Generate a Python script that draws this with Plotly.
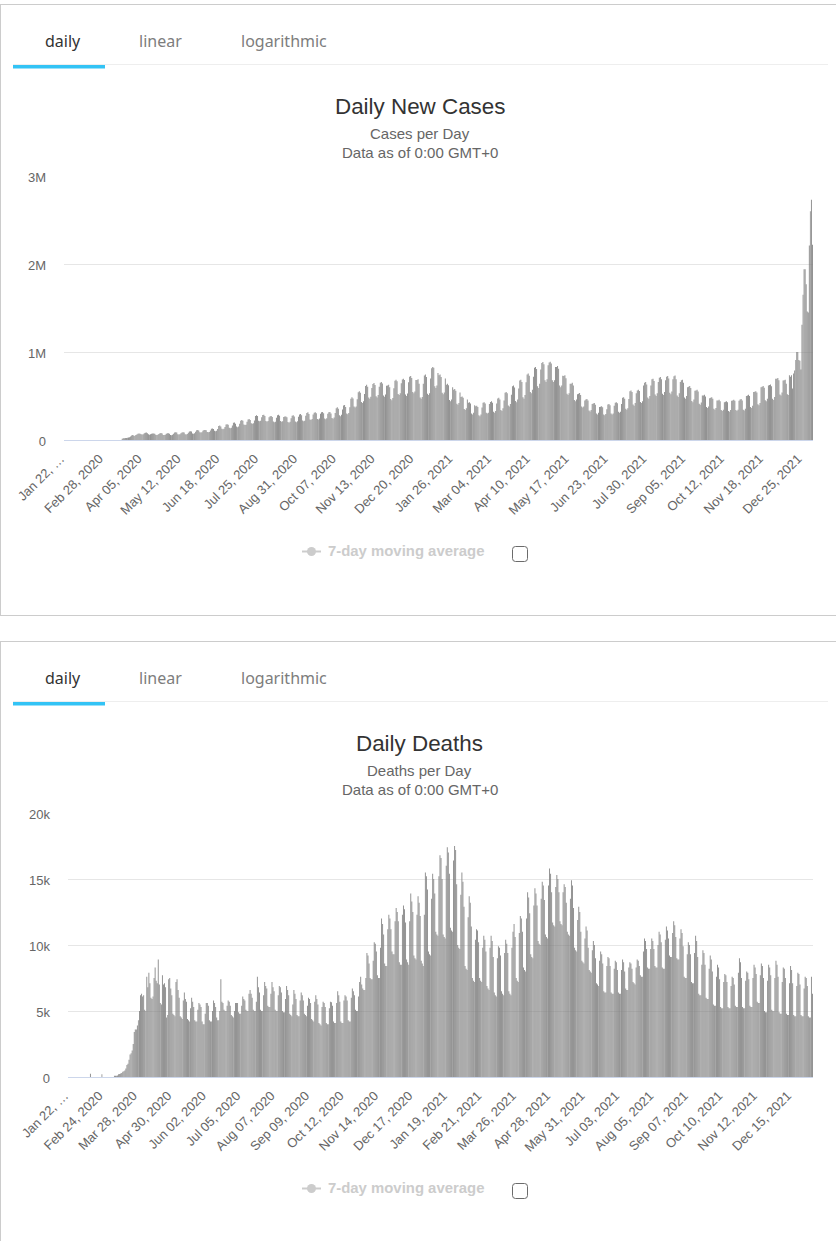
"""Daily new cases and daily deaths, two stacked column charts with tab headers."""
import pandas as pd
import plotly.graph_objects as go

WIDTH = 836
HEIGHT = 1241
START_DATE = "2020-01-22"

# one row per week, thousands of cases per day
CASES_K = [
    0, 0, 0, 0, 0, 0, 0,
    0, 0, 0, 0, 0, 0, 0,
    0, 0, 0, 0, 0, 0, 0,
    0, 0, 0, 0, 0, 0, 0,
    0, 0, 0, 0, 0, 0, 0,
    0, 0, 0, 0, 0, 0, 0,
    0, 0, 0, 0, 0, 0, 0,
    0, 0, 0, 0, 0, 0, 14,
    19, 20, 22, 24, 25, 27, 30,
    40, 52, 56, 50, 46, 56, 62,
    72, 74, 70, 64, 62, 66, 76,
    82, 85, 78, 64, 60, 64, 72,
    75, 74, 72, 60, 58, 60, 68,
    78, 80, 74, 58, 56, 60, 72,
    76, 76, 72, 58, 55, 60, 72,
    85, 88, 84, 65, 62, 66, 78,
    86, 88, 85, 65, 62, 68, 82,
    98, 100, 96, 75, 72, 76, 94,
    112, 115, 108, 87, 84, 88, 104,
    113, 115, 110, 91, 88, 90, 108,
    128, 130, 126, 104, 100, 106, 124,
    160, 165, 152, 127, 122, 128, 148,
    176, 180, 172, 139, 134, 140, 166,
    196, 200, 186, 152, 146, 152, 184,
    220, 226, 218, 176, 170, 174, 208,
    234, 238, 226, 190, 184, 190, 222,
    274, 280, 272, 220, 212, 218, 258,
    284, 287, 272, 216, 208, 216, 258,
    270, 272, 262, 210, 202, 206, 252,
    282, 287, 276, 216, 208, 212, 260,
    266, 268, 258, 204, 196, 206, 248,
    276, 280, 268, 210, 202, 214, 264,
    290, 295, 282, 222, 214, 220, 276,
    308, 314, 296, 234, 226, 238, 290,
    310, 314, 304, 240, 232, 244, 298,
    314, 318, 304, 244, 236, 246, 298,
    316, 318, 300, 250, 242, 256, 306,
    362, 372, 356, 280, 270, 286, 348,
    392, 398, 376, 302, 292, 306, 372,
    470, 487, 472, 380, 368, 382, 462,
    542, 555, 536, 432, 420, 440, 522,
    615, 628, 606, 484, 470, 492, 590,
    636, 648, 624, 496, 482, 510, 604,
    650, 660, 642, 506, 492, 516, 616,
    618, 628, 600, 466, 452, 478, 588,
    672, 686, 668, 524, 510, 530, 646,
    688, 697, 682, 516, 500, 528, 656,
    718, 728, 704, 546, 530, 550, 682,
    682, 690, 640, 484, 470, 490, 640,
    734, 743, 716, 526, 510, 530, 700,
    815, 830, 822, 610, 590, 620, 760,
    735, 745, 716, 536, 520, 540, 700,
    628, 640, 622, 454, 440, 460, 600,
    570, 580, 560, 412, 400, 420, 540,
    488, 495, 480, 352, 340, 360, 460,
    424, 430, 414, 300, 290, 310, 395,
    384, 390, 376, 280, 270, 290, 370,
    424, 430, 416, 310, 300, 310, 410,
    432, 440, 424, 320, 310, 330, 416,
    472, 480, 460, 342, 330, 360, 450,
    536, 545, 530, 392, 380, 410, 515,
    610, 620, 596, 444, 430, 460, 585,
    676, 685, 660, 486, 470, 510, 655,
    745, 755, 730, 546, 530, 570, 720,
    820, 830, 806, 610, 590, 640, 800,
    875, 885, 860, 680, 660, 690, 850,
    882, 890, 870, 680, 660, 680, 830,
    830, 840, 810, 620, 600, 620, 730,
    726, 735, 702, 526, 510, 530, 640,
    640, 650, 620, 454, 440, 460, 520,
    526, 535, 510, 382, 370, 380, 450,
    460, 467, 450, 336, 325, 340, 410,
    414, 420, 400, 300, 290, 310, 375,
    378, 383, 372, 290, 280, 295, 350,
    404, 410, 396, 300, 290, 300, 390,
    424, 430, 418, 320, 310, 320, 410,
    480, 487, 470, 356, 345, 360, 465,
    555, 563, 545, 402, 390, 420, 530,
    562, 570, 556, 432, 420, 440, 620,
    650, 660, 630, 484, 470, 500, 620,
    690, 697, 670, 516, 500, 530, 660,
    708, 716, 690, 526, 510, 545, 680,
    720, 728, 700, 536, 520, 550, 690,
    725, 732, 690, 506, 490, 530, 660,
    680, 686, 650, 484, 470, 500, 600,
    606, 613, 590, 444, 430, 460, 560,
    562, 570, 550, 412, 400, 425, 505,
    506, 513, 495, 376, 365, 380, 475,
    480, 487, 470, 356, 345, 365, 450,
    450, 456, 440, 340, 330, 345, 430,
    434, 440, 430, 330, 320, 340, 445,
    450, 456, 445, 340, 330, 345, 445,
    460, 467, 450, 345, 335, 355, 500,
    505, 513, 500, 376, 365, 390, 545,
    548, 555, 540, 406, 395, 420, 600,
    605, 613, 595, 452, 440, 470, 620,
    625, 632, 610, 468, 455, 490, 695,
    697, 705, 680, 518, 505, 540, 675,
    680, 686, 640, 520, 510, 735, 720,
    735, 585, 755, 790, 910, 1000, 1000,
    910, 900, 800, 1310, 1650, 1940, 1940,
    1770, 1460, 1450, 2210, 2600, 2730, 2220,
]

# one row per week, deaths per day
DEATHS = [
    0, 0, 0, 0, 0, 0, 0,
    0, 0, 0, 0, 0, 0, 0,
    0, 0, 0, 0, 0, 0, 0,
    250, 0, 0, 0, 0, 0, 0,
    0, 0, 0, 0, 200, 0, 0,
    0, 0, 0, 0, 0, 0, 0,
    0, 0, 90, 100, 100, 110, 200,
    230, 260, 300, 400, 430, 500, 650,
    900, 1000, 1300, 1700, 1800, 2000, 2500,
    3400, 3600, 3600, 3900, 4300, 5000, 6200,
    6300, 6100, 6200, 5100, 5000, 7600, 6800,
    7900, 7100, 6000, 5900, 6100, 7500, 8300,
    7300, 7100, 8900, 7000, 5600, 5500, 7700,
    7000, 7100, 6800, 4500, 4700, 7400, 7500,
    6700, 6200, 4800, 4700, 4600, 7200, 7400,
    6600, 6000, 4600, 4500, 4400, 5800, 6400,
    5900, 5700, 4400, 4300, 4200, 5200, 6000,
    5700, 5300, 4300, 4200, 4200, 5100, 5600,
    5500, 5300, 4200, 4000, 4000, 4800, 5600,
    5600, 5400, 4300, 4200, 4200, 5000, 5800,
    5600, 5300, 4500, 4300, 4300, 5000, 7400,
    5700, 5600, 5100, 5000, 5000, 5400, 5800,
    5700, 5400, 4700, 4600, 4500, 5000, 5600,
    5600, 5600, 4900, 4800, 4800, 5400, 6100,
    5900, 5800, 5100, 5000, 5000, 6300, 6600,
    6300, 6000, 5100, 5000, 5000, 5700, 7600,
    6800, 6400, 5100, 5000, 5000, 6200, 7200,
    6900, 6700, 5400, 5300, 5300, 6300, 7200,
    6800, 6500, 5100, 5000, 5000, 6200, 6900,
    6800, 6400, 5000, 4900, 4900, 5900, 6900,
    6600, 6200, 4800, 4700, 4600, 5500, 6600,
    6300, 5900, 4700, 4600, 4600, 5800, 6400,
    6200, 5800, 4800, 4700, 4600, 5400, 6000,
    5900, 5600, 4400, 4300, 4200, 5700, 6200,
    5900, 5500, 4100, 4000, 3900, 5300, 5700,
    5600, 5300, 4100, 4000, 4000, 5200, 5700,
    5660, 5400, 4200, 4100, 4100, 5600, 6500,
    6200, 5700, 4200, 4100, 4100, 5800, 6200,
    6100, 5800, 4300, 4200, 4200, 6000, 6700,
    6500, 6200, 5100, 5000, 5000, 6100, 7200,
    7600, 7000, 6700, 6600, 6600, 7500, 9400,
    9200, 8600, 7500, 7400, 7400, 8800, 10200,
    10100, 9500, 7700, 7500, 7500, 9800, 12000,
    11600, 10800, 8600, 8400, 8400, 11200, 12300,
    12000, 11200, 9500, 9300, 9300, 11800, 12800,
    12500, 11800, 8700, 8500, 8500, 12300, 13000,
    12700, 11700, 8900, 8700, 8500, 11800, 13900,
    13300, 12500, 9200, 9000, 8900, 12300, 13700,
    13200, 12200, 8800, 8600, 8400, 12300, 15500,
    15200, 14200, 9500, 9300, 9200, 13500, 15400,
    15000, 13900, 11000, 10800, 10700, 15200, 16800,
    16600, 15000, 10800, 10600, 10500, 16000, 17400,
    17000, 15400, 11300, 11100, 11000, 16400, 17500,
    17200, 14600, 10000, 9800, 9700, 13800, 15500,
    14800, 12900, 8400, 8200, 8100, 12100, 13700,
    13200, 11400, 7500, 7300, 7200, 10400, 11200,
    11100, 10200, 7500, 7300, 7200, 9800, 10700,
    10400, 9500, 6900, 6700, 6600, 9800, 10700,
    10300, 9100, 6400, 6200, 6100, 9000, 9900,
    9800, 9200, 6500, 6300, 6200, 9400, 10400,
    10100, 9400, 6500, 6300, 6200, 9800, 11000,
    11600, 10600, 7500, 7300, 7200, 10900, 12200,
    12000, 11000, 8300, 8100, 8000, 12000, 14000,
    13600, 12400, 9300, 9100, 9000, 13000, 14300,
    13900, 13000, 10300, 10100, 10000, 13500, 14800,
    14500, 13400, 10800, 10600, 10500, 14500, 15800,
    15400, 14000, 11700, 11500, 11400, 14400, 15300,
    15000, 14000, 11800, 11600, 11500, 14000, 14600,
    14400, 13200, 11000, 10800, 10700, 13500, 14900,
    14500, 12800, 9800, 9600, 9500, 11900, 12900,
    12500, 11000, 8800, 8700, 8600, 10500, 11400,
    11100, 9800, 8100, 8000, 7900, 9600, 10300,
    10000, 9000, 7100, 7000, 6900, 8800, 9500,
    9300, 8600, 6500, 6400, 6400, 8400, 9100,
    9000, 8400, 6400, 6300, 6300, 8200, 8800,
    8700, 8100, 6400, 6300, 6300, 8100, 8900,
    8700, 8000, 6700, 6600, 6600, 8300, 8700,
    8600, 8200, 7200, 7100, 7000, 8300, 8900,
    8800, 8400, 7700, 7600, 7600, 9500, 10500,
    10300, 9700, 8300, 8200, 8200, 9700, 10500,
    10300, 9700, 8400, 8300, 8300, 10000, 11000,
    10800, 10200, 8300, 8200, 8200, 10400, 11400,
    11100, 10500, 9200, 9100, 9100, 10900, 11800,
    11500, 10600, 9000, 8900, 8900, 10500, 11200,
    10900, 9900, 7600, 7500, 7500, 9300, 10200,
    10000, 9300, 7200, 7100, 7100, 9400, 10700,
    10300, 9100, 6300, 6200, 6200, 8500, 9600,
    9400, 8500, 6000, 5900, 5900, 8200, 9200,
    8900, 8000, 5500, 5400, 5400, 7600, 8500,
    8300, 7400, 5300, 5200, 5200, 7200, 7800,
    7700, 7200, 5300, 5200, 5200, 6900, 7600,
    7500, 7000, 5400, 5300, 5300, 7900, 9000,
    8700, 7500, 5300, 5200, 5200, 7300, 8000,
    7900, 7400, 5400, 5300, 5300, 7500, 8500,
    8300, 7800, 5700, 5600, 5600, 7700, 8600,
    8400, 7500, 5000, 4900, 4900, 7300, 8500,
    8300, 7700, 5100, 5000, 5000, 7500, 8800,
    8500, 7600, 4900, 4800, 4800, 7200, 8300,
    8200, 7500, 4800, 4700, 4700, 7100, 8400,
    8100, 7100, 4700, 4600, 4600, 6900, 7900,
    7800, 7000, 4700, 4600, 4600, 6700, 7600,
    7500, 6900, 4600, 4500, 4500, 7600, 6300,
]

CASE_TICK_STEP = 37
DEATH_TICK_STEP = 33
FIRST_TICK_TEXT = "Jan 22, …"

CASE_Y_TICKS = [0, 1000, 2000, 3000]
CASE_Y_LABELS = ["0", "1M", "2M", "3M"]
DEATH_Y_TICKS = [0, 5000, 10000, 15000, 20000]
DEATH_Y_LABELS = ["0", "5k", "10k", "15k", "20k"]

TABS = ["daily", "linear", "logarithmic"]

SANS = "Liberation Sans, Arial, sans-serif"
TAB_FONT = "Noto Sans, sans-serif"
BAR_COLOR = "rgba(125,125,125,0.88)"
BAR_STRIPE_COLOR = "rgba(125,125,125,0.76)"
GRID_COLOR = "#e6e6e6"
AXIS_COLOR = "#ccd6eb"
LABEL_COLOR = "#666666"


def fx(px):
    return px / WIDTH


def fy(px):
    return 1 - px / HEIGHT


def text(fig, x, y, s, size, color, family=SANS, bold=False, anchor="center"):
    fig.add_annotation(
        x=fx(x), y=fy(y), xref="paper", yref="paper", text=f"<b>{s}</b>" if bold else s,
        showarrow=False, xanchor=anchor, yanchor="middle",
        font=dict(family=family, size=size, color=color),
    )


def line(fig, x0, y0, x1, y1, color, width=1):
    fig.add_shape(type="line", xref="paper", yref="paper", x0=fx(x0), y0=fy(y0), x1=fx(x1), y1=fy(y1),
                  line=dict(color=color, width=width))


def rounded_box(fig, x0, y0, x1, y1, r):
    path = (
        f"M {fx(x0 + r)} {fy(y0)} L {fx(x1 - r)} {fy(y0)} "
        f"Q {fx(x1)} {fy(y0)} {fx(x1)} {fy(y0 + r)} L {fx(x1)} {fy(y1 - r)} "
        f"Q {fx(x1)} {fy(y1)} {fx(x1 - r)} {fy(y1)} L {fx(x0 + r)} {fy(y1)} "
        f"Q {fx(x0)} {fy(y1)} {fx(x0)} {fy(y1 - r)} L {fx(x0)} {fy(y0 + r)} "
        f"Q {fx(x0)} {fy(y0)} {fx(x0 + r)} {fy(y0)} Z"
    )
    fig.add_shape(type="path", xref="paper", yref="paper", path=path,
                  line=dict(color="#6b6b6b", width=1), fillcolor="#ffffff")


def chrome(fig, top, title, subtitle):
    # tabs, titles and the disabled legend of one card; top is the card's top edge
    line(fig, 13, top + 60.5, 828, top + 60.5, "#eeeeee")
    fig.add_shape(type="rect", xref="paper", yref="paper", x0=fx(13), x1=fx(105),
                  y0=fy(top + 61), y1=fy(top + 64.5), fillcolor="#33c3f5", line_width=0)
    text(fig, 62.5, top + 36.5, TABS[0], 16, "#333333", TAB_FONT)
    text(fig, 160.5, top + 36.5, TABS[1], 16, "#7d7d7d", TAB_FONT)
    text(fig, 284, top + 36.5, TABS[2], 16, "#7d7d7d", TAB_FONT)
    text(fig, 420, top + 102.5, title, 22.4, "#333333")
    text(fig, 420, top + 129.5, subtitle, 15, LABEL_COLOR)
    text(fig, 420, top + 148.5, "Data as of 0:00 GMT+0", 15, LABEL_COLOR)
    line(fig, 302, top + 547.5, 321, top + 547.5, "#cccccc", 2)
    fig.add_shape(type="circle", xref="paper", yref="paper", x0=fx(307), x1=fx(316),
                  y0=fy(top + 552), y1=fy(top + 543), fillcolor="#cccccc", line_width=0)
    text(fig, 326, top + 546.5, "7-day moving average", 14.9, "#cccccc", bold=True, anchor="left")
    rounded_box(fig, 512.5, top + 542.5, 527.5, top + 557.5, 3)


dates = pd.date_range(START_DATE, periods=len(CASES_K)).strftime("%b %d, %Y").tolist()
case_ticks = dates[::CASE_TICK_STEP]
death_ticks = dates[::DEATH_TICK_STEP]
case_tick_text = [FIRST_TICK_TEXT] + case_ticks[1:]
death_tick_text = [FIRST_TICK_TEXT] + death_ticks[1:]

# the columns show a pale stripe once a week, on the weekly low
bar_colors = [BAR_STRIPE_COLOR if i % 7 == 4 else BAR_COLOR for i in range(len(dates))]

fig = go.Figure()
fig.add_bar(x=dates, y=CASES_K, xaxis="x", yaxis="y", marker=dict(color=bar_colors, line_width=0))
fig.add_bar(x=dates, y=DEATHS, xaxis="x2", yaxis="y2", marker=dict(color=bar_colors, line_width=0))

x_common = dict(
    type="category", showgrid=False, showline=True, linecolor=AXIS_COLOR, linewidth=1, zeroline=False,
    ticks="", tickangle=-45, tickfont=dict(family=SANS, size=13, color=LABEL_COLOR),
    tickmode="array", range=[-0.5, len(dates) - 0.5], automargin=False,
    ticklabelstandoff=5, ticklabelshift=-4,
)
y_common = dict(
    showgrid=True, gridcolor=GRID_COLOR, gridwidth=1, zeroline=False, showline=False, ticks="",
    tickfont=dict(family=SANS, size=13, color=LABEL_COLOR), tickmode="array", ticklabelstandoff=17,
    ticklabelshift=1, automargin=False,
)

fig.update_layout(
    width=WIDTH, height=HEIGHT, margin=dict(l=0, r=0, t=0, b=0, pad=0), showlegend=False,
    paper_bgcolor="#ffffff", plot_bgcolor="#ffffff", bargap=0.1,
    xaxis=dict(x_common, domain=[fx(64), fx(813)], anchor="y", tickvals=case_ticks, ticktext=case_tick_text),
    yaxis=dict(y_common, domain=[fy(440), fy(176)], anchor="x", range=[0, 3000],
               tickvals=CASE_Y_TICKS, ticktext=CASE_Y_LABELS),
    xaxis2=dict(x_common, domain=[fx(68), fx(813)], anchor="y2", tickvals=death_ticks, ticktext=death_tick_text),
    yaxis2=dict(y_common, domain=[fy(1077), fy(813)], anchor="x2", range=[0, 20000],
                tickvals=DEATH_Y_TICKS, ticktext=DEATH_Y_LABELS),
)

# card borders
line(fig, 0, 4.5, WIDTH, 4.5, "#cccccc")
line(fig, 0.5, 4.5, 0.5, 615.5, "#cccccc")
line(fig, 0, 615.5, WIDTH, 615.5, "#cccccc")
line(fig, 0, 641.5, WIDTH, 641.5, "#cccccc")
line(fig, 0.5, 641.5, 0.5, HEIGHT, "#cccccc")

chrome(fig, 4, "Daily New Cases", "Cases per Day")
chrome(fig, 641, "Daily Deaths", "Deaths per Day")

fig.write_html(
    "out.html",
    config={"displayModeBar": False},
    post_script="document.body.style.margin='0';document.body.style.overflow='hidden';",
)
